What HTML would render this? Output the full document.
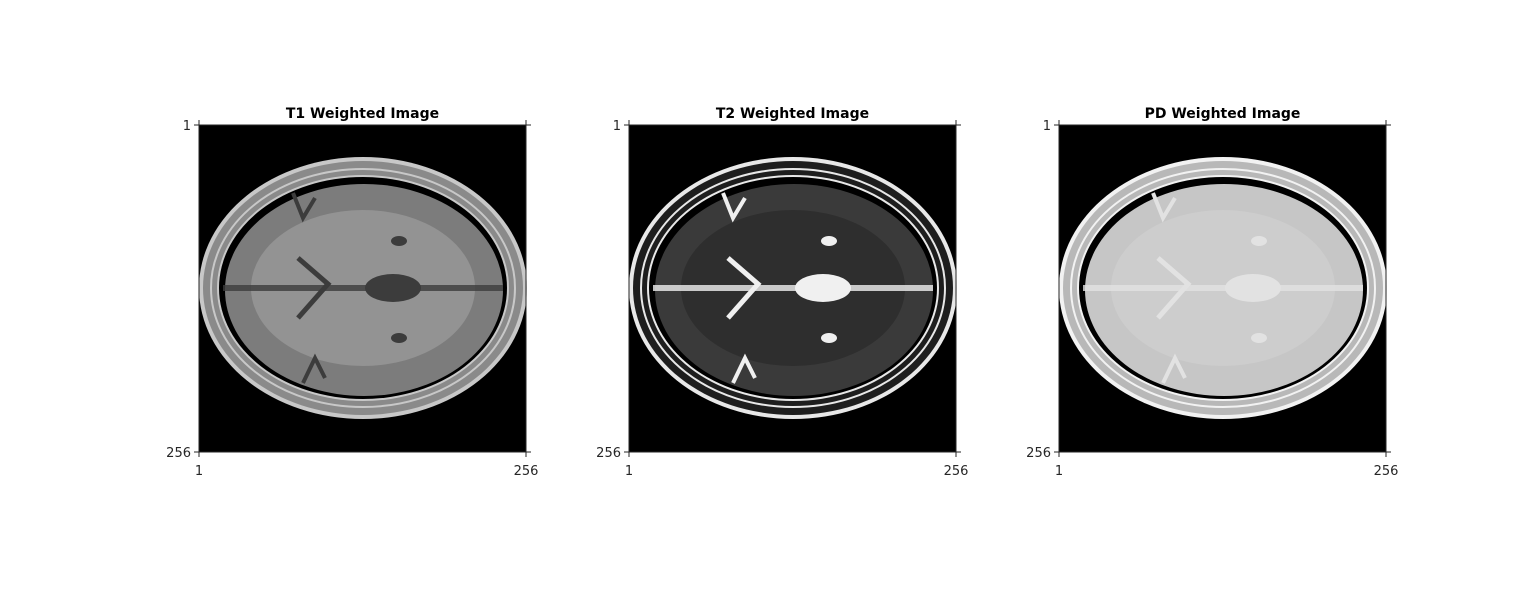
<!DOCTYPE html>
<html><head><meta charset="utf-8"><style>
body{margin:0;background:#fff;width:1531px;height:598px;overflow:hidden;font-family:"Liberation Sans","DejaVu Sans",sans-serif}
svg{position:absolute;left:0;top:0}
</style></head><body>
<svg width="1531" height="598" id="fig"></svg>
<script>
const titles=["T1 Weighted Image","T2 Weighted Image","PD Weighted Image"];
const xTicks=["1","256"];
const yTicks=["1","256"];
const lefts=[199,629,1059];
const palettes=[
 {scalp:"#8a8a8a",edge:"#c8c8c8",gap:"#000",brain:"#7c7c7c",wm:"#939393",dark:"#3c3c3c"},
 {scalp:"#1e1e1e",edge:"#e8e8e8",gap:"#000",brain:"#3a3a3a",wm:"#2e2e2e",dark:"#f0f0f0"},
 {scalp:"#b8b8b8",edge:"#f2f2f2",gap:"#000",brain:"#c6c6c6",wm:"#cdcdcd",dark:"#e2e2e2"}
];
const NS="http://www.w3.org/2000/svg";
const fig=document.getElementById('fig');
function mk(t,a,p){const e=document.createElementNS(NS,t);for(const k in a)e.setAttribute(k,a[k]);(p||fig).appendChild(e);return e;}
const top0=125,size=327;
lefts.forEach((L,i)=>{
 const p=palettes[i];
 const g=mk('g',{});
 
 
 const bg=mk('rect',{x:L,y:top0,width:size,height:size,fill:'#000'},g);
 
 
 const cx=L+164,cy=top0+163;
 mk('ellipse',{cx:cx,cy:cy,rx:164,ry:131,fill:p.edge},g);
 mk('ellipse',{cx:cx,cy:cy,rx:160,ry:127,fill:p.scalp},g);
 mk('ellipse',{cx:cx,cy:cy,rx:152,ry:119,fill:'none',stroke:p.edge,'stroke-width':2},g);
 mk('ellipse',{cx:cx,cy:cy,rx:146,ry:113,fill:p.edge},g);
 mk('ellipse',{cx:cx,cy:cy,rx:144,ry:111,fill:p.gap},g);
 const br=mk('ellipse',{cx:cx+1,cy:cy+2,rx:139,ry:106,fill:p.brain},g);
 
 
 mk('ellipse',{cx:cx,cy:cy,rx:112,ry:78,fill:p.wm},g);
 // midline & ventricles
 mk('rect',{x:cx-140,y:cy-3,width:280,height:6,fill:p.dark,opacity:0.8},g);
 mk('ellipse',{cx:cx+30,cy:cy,rx:28,ry:14,fill:p.dark},g);
 mk('path',{d:`M${cx-65},${cy-30} L${cx-35},${cy-4} L${cx-65},${cy+30}`,stroke:p.dark,'stroke-width':5,fill:'none'},g);
 mk('ellipse',{cx:cx+36,cy:cy-47,rx:8,ry:5,fill:p.dark},g);
 mk('ellipse',{cx:cx+36,cy:cy+50,rx:8,ry:5,fill:p.dark},g);
 mk('path',{d:`M${cx-70},${cy-95} l10,25 l12,-20 M${cx-60},${cy+95} l12,-25 l10,20`,stroke:p.dark,'stroke-width':4,fill:'none'},g);
 mk('rect',{x:L,y:top0,width:size,height:size,fill:'none',stroke:'#262626','stroke-width':1},g);
 // ticks
 [[L,top0,L-5,top0],[L,top0+size,L-5,top0+size],[L+size,top0,L+size+5,top0],[L+size,top0+size,L+size+5,top0+size],
  [L,top0+size,L,top0+size+5],[L+size,top0+size,L+size,top0+size+5],[L,top0,L,top0-5],[L+size,top0,L+size,top0-5]]
  .forEach(t=>mk('line',{x1:t[0],y1:t[1],x2:t[2],y2:t[3],stroke:'#262626'},g));
 const tt=mk('text',{x:L+size/2,y:118,'text-anchor':'middle','font-size':14,'font-weight':'bold',fill:'#000','font-family':'"DejaVu Sans","Liberation Sans",sans-serif'},g);
 tt.textContent=titles[i];
 
 
 yTicks.forEach((lab,j)=>{
  const t=mk('text',{x:L-8,y:(j?top0+size:top0)+5,'text-anchor':'end','font-size':13,fill:'#262626','font-family':'"DejaVu Sans",sans-serif'},g);
  t.textContent=lab;
  
  
 });
 xTicks.forEach((lab,j)=>{
  const t=mk('text',{x:j?L+size:L,y:top0+size+23,'text-anchor':'middle','font-size':13,fill:'#262626','font-family':'"DejaVu Sans",sans-serif'},g);
  t.textContent=lab;
  
  
 });
});
</script>
</body></html>
